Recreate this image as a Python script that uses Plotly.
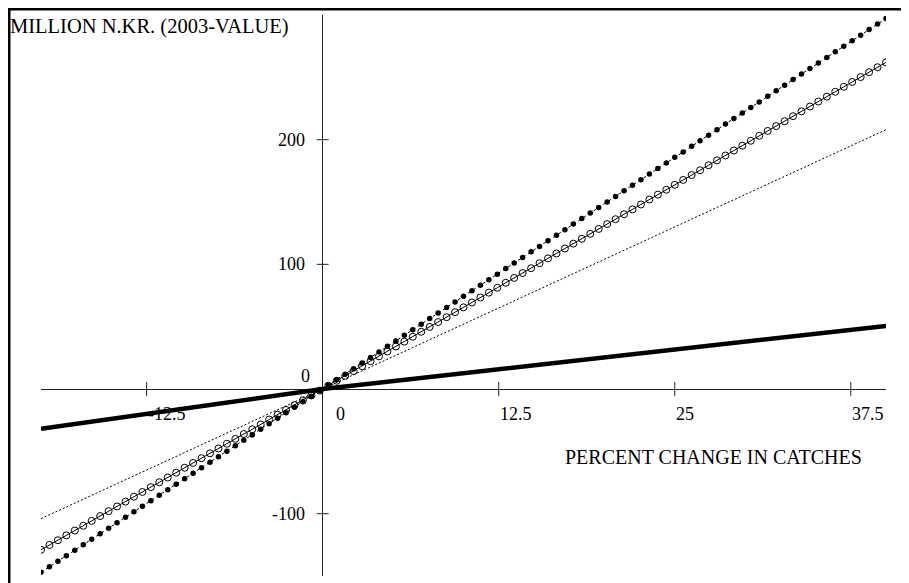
import plotly.graph_objects as go

# ---------------- data ----------------
# percent change in catches (grid of computed points, step 0.6)
PCT = [round(-20 + 0.6 * i, 1) for i in range(101)]

# series with filled dots (million NOK)
FILLED = [-147.0, -142.6, -138.2, -133.8, -129.4, -125.0, -120.5, -116.1, -111.7, -107.3,
          -102.9, -98.5, -94.1, -89.7, -85.3, -80.9, -76.4, -72.0, -67.6, -63.2,
          -58.8, -54.4, -50.0, -45.6, -41.2, -36.8, -32.3, -27.9, -23.5, -19.1,
          -14.7, -10.3, -5.9, -1.5, 3.0, 7.4, 11.9, 16.3, 20.8, 25.3,
          29.7, 34.2, 38.6, 43.1, 47.6, 52.0, 56.5, 60.9, 65.4, 69.8,
          74.3, 78.8, 83.2, 87.7, 92.1, 96.6, 101.0, 105.5, 110.0, 114.4,
          118.9, 123.3, 127.8, 132.3, 136.7, 141.2, 145.6, 150.1, 154.5, 159.0,
          163.5, 167.9, 172.4, 176.8, 181.3, 185.8, 190.2, 194.7, 199.1, 203.6,
          208.0, 212.5, 217.0, 221.4, 225.9, 230.3, 234.8, 239.2, 243.7, 248.2,
          252.6, 257.1, 261.5, 266.0, 270.5, 274.9, 279.4, 283.8, 288.3, 292.7,
          297.2]

# series with open circles
OPEN = [-129.0, -125.1, -121.3, -117.4, -113.5, -109.7, -105.8, -101.9, -98.0, -94.2,
        -90.3, -86.4, -82.6, -78.7, -74.8, -71.0, -67.1, -63.2, -59.3, -55.5,
        -51.6, -47.7, -43.9, -40.0, -36.1, -32.3, -28.4, -24.5, -20.6, -16.8,
        -12.9, -9.0, -5.2, -1.3, 2.6, 6.6, 10.5, 14.4, 18.3, 22.3,
        26.2, 30.1, 34.1, 38.0, 41.9, 45.9, 49.8, 53.7, 57.6, 61.6,
        65.5, 69.4, 73.4, 77.3, 81.2, 85.2, 89.1, 93.0, 96.9, 100.9,
        104.8, 108.7, 112.7, 116.6, 120.5, 124.5, 128.4, 132.3, 136.2, 140.2,
        144.1, 148.0, 152.0, 155.9, 159.8, 163.8, 167.7, 171.6, 175.5, 179.5,
        183.4, 187.3, 191.3, 195.2, 199.1, 203.1, 207.0, 210.9, 214.8, 218.8,
        222.7, 226.6, 230.6, 234.5, 238.4, 242.4, 246.3, 250.2, 254.1, 258.1,
        262.0]

# thin dotted line and thick solid line (end points and origin)
LINE_X = [-20, 0, 40]
THIN = [-104, 0, 208]
THICK = [-32, 0, 50.6]

X_TICKS = [-12.5, 0, 12.5, 25, 37.5]
X_TICK_TEXT = ["-12.5", "0", "12.5", "25", "37.5"]
Y_TICKS = [-100, 0, 100, 200]
Y_TICK_TEXT = ["-100", "0", "100", "200"]

Y_TITLE = "MILLION N.KR. (2003-VALUE)"
X_TITLE = "PERCENT CHANGE IN CATCHES"

# ---------------- layout helpers ----------------
W_FIG, H_FIG = 909, 583
OFF = 8                      # page margin of the browser
L, T, PW, PH = 41 - OFF, 15 - OFF, 845, 561
FONT = "Liberation Serif, Times New Roman, serif"


def px_x(sx):
    """screen x -> paper x"""
    return (sx - OFF - L) / PW


def px_y(sy):
    """screen y -> paper y"""
    return (T + PH - (sy - OFF)) / PH


fig = go.Figure()

fig.add_trace(go.Scatter(x=LINE_X, y=THIN, mode="lines",
                         line=dict(color="black", width=1, dash="2px,2px"),
                         hoverinfo="skip"))
fig.add_trace(go.Scatter(x=LINE_X, y=THICK, mode="lines",
                         line=dict(color="black", width=4.5),
                         hoverinfo="skip"))
fig.add_trace(go.Scatter(x=PCT, y=OPEN, mode="lines+markers",
                         line=dict(color="black", width=1),
                         marker=dict(symbol="circle-open", size=7, color="black",
                                     line=dict(width=1, color="black")),
                         hoverinfo="skip"))
fig.add_trace(go.Scatter(x=PCT, y=FILLED, mode="lines+markers",
                         line=dict(color="black", width=1, dash="dot"),
                         marker=dict(symbol="circle", size=5.5, color="black"),
                         hoverinfo="skip"))

fig.update_xaxes(range=[-20, 40], showgrid=False, zeroline=True,
                 zerolinecolor="#222", zerolinewidth=1, showticklabels=False,
                 ticks="", showline=False)
fig.update_yaxes(range=[-150, 300], showgrid=False, zeroline=True,
                 zerolinecolor="#222", zerolinewidth=1, showticklabels=False,
                 ticks="", showline=False)

shapes = []
# tick marks crossing the axes
for v in X_TICKS:
    if v == 0:
        continue
    shapes.append(dict(type="line", xref="x", yref="y", x0=v, x1=v,
                       ysizemode="pixel", yanchor=0, y0=-7, y1=7,
                       line=dict(color="#222", width=1)))
for v in Y_TICKS:
    if v == 0:
        continue
    shapes.append(dict(type="line", xref="x", yref="y", y0=v, y1=v,
                       xsizemode="pixel", xanchor=0, x0=-6, x1=6,
                       line=dict(color="#222", width=1)))
# frame (left and top)
shapes.append(dict(type="line", xref="paper", yref="paper",
                   x0=px_x(9), x1=px_x(9), y0=px_y(6), y1=px_y(600),
                   line=dict(color="black", width=3)))
shapes.append(dict(type="line", xref="paper", yref="paper",
                   x0=px_x(6), x1=px_x(930), y0=px_y(9), y1=px_y(9),
                   line=dict(color="black", width=3)))

X_SHIFT = {0: 11}
annotations = []
for v, t in zip(X_TICKS, X_TICK_TEXT):
    annotations.append(dict(x=v, y=0, xref="x", yref="y", text=t, showarrow=False,
                            xanchor="left", yanchor="middle",
                            xshift=X_SHIFT.get(v, -1), yshift=-25,
                            font=dict(family=FONT, size=18, color="black")))
for v, t in zip(Y_TICKS, Y_TICK_TEXT):
    annotations.append(dict(x=0, y=v, xref="x", yref="y", text=t, showarrow=False,
                            xanchor="right", yanchor="middle",
                            xshift=(-11 if v == 0 else -16),
                            yshift=(13 if v == 0 else 0),
                            font=dict(family=FONT, size=18, color="black")))
annotations.append(dict(x=px_x(8), y=px_y(27), xref="paper", yref="paper",
                        text=Y_TITLE, showarrow=False, xanchor="left", yanchor="middle",
                        font=dict(family=FONT, size=20.5, color="black")))
annotations.append(dict(x=px_x(563), y=px_y(457), xref="paper", yref="paper",
                        text=X_TITLE, showarrow=False, xanchor="left", yanchor="middle",
                        font=dict(family=FONT, size=20, color="black")))

fig.update_layout(width=W_FIG, height=H_FIG,
                  margin=dict(l=L, r=W_FIG - L - PW, t=T, b=H_FIG - T - PH, pad=0),
                  paper_bgcolor="white", plot_bgcolor="white",
                  showlegend=False, shapes=shapes, annotations=annotations,
                  font=dict(family=FONT, color="black"))

fig.write_html("out.html")
